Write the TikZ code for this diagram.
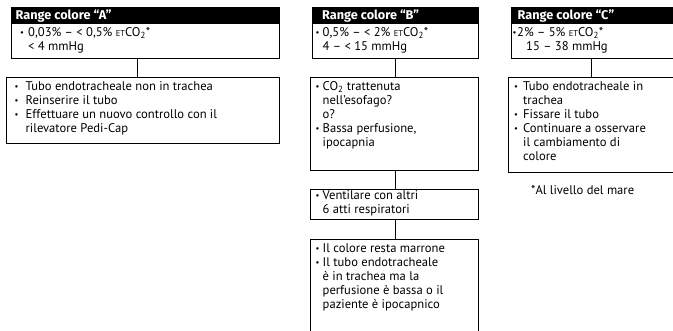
\documentclass[tikz,border=0pt]{standalone}
\usepackage{fontspec}
\setmainfont{PT Sans}
\newfontfamily\ttlfamily{Fira Sans}
\newcommand\bodyfont{\fontsize{12.6}{14}\selectfont}
\newcommand\ttlfont{\ttlfamily\fontsize{12.7}{13}\selectfont\bfseries}
\newcommand\smbul{{\fontsize{8.5}{8.5}\selectfont\raisebox{0.8pt}{•}}}
\newcommand\bu[1]{\makebox[#1][l]{\smbul}}
\newcommand\ind[1]{\hspace*{#1}}
\newcommand\etco{{\fontsize{8.5}{8.5}\selectfont ET}CO\textsubscript{2}*}
\begin{document}
\begin{tikzpicture}[x=1pt,y=-1pt,
  hdr/.style={fill=black,draw=black,line width=0.6pt,anchor=north west,inner sep=0,outer sep=0},
  bx/.style={draw=black,line width=0.8pt,anchor=north west,inner sep=0,outer sep=0},
  ttl/.style={anchor=base west,inner sep=0,text=white,font=\ttlfont},
  txt/.style={anchor=base west,inner sep=0,font=\bodyfont},
  conn/.style={draw=black,line width=0.8pt}]
\useasboundingbox (0,0) rectangle (673,331);
\clip (0,0) rectangle (673,331);
% column A
\node[hdr,minimum width=268pt,minimum height=16pt] (ha) at (11,7) {};
\node[bx,minimum width=268pt,minimum height=35pt] (ba) at (11,23) {};
\node[bx,minimum width=273pt,minimum height=66pt] (la) at (6,77) {};
\node[ttl] (tha) at (15.5,19.8) {Range colore “A”};
\node[txt] (tba) at (20,36.5) {\parbox[t]{250pt}{\bu{8pt}0,03\% – < 0,5\% \etco\\\ind{8pt}< 4 mmHg}};
\node[txt] (tla) at (14.5,90.5) {\parbox[t]{260pt}{\bu{11pt}Tubo endotracheale non in trachea\\\bu{11pt}Reinserire il tubo\\\bu{11pt}Effettuare un nuovo controllo con il\\\ind{11pt}rilevatore Pedi-Cap}};
\coordinate (xa) at (137,0);
\draw[conn] (ba.south -| xa) -- (la.north -| xa);
% column B
\node[hdr,minimum width=166pt,minimum height=16pt] (hb) at (312,7) {};
\node[bx,minimum width=166pt,minimum height=35pt] (bb) at (312,23) {};
\node[bx,minimum width=168pt,minimum height=93pt] (lb) at (310,77) {};
\node[bx,minimum width=168pt,minimum height=30pt] (vb) at (310,189) {};
\node[bx,minimum width=168pt,minimum height=110pt] (eb) at (310,239) {};
\node[ttl] (thb) at (322,19.8) {Range colore “B”};
\node[txt] (tbb) at (315.5,36.5) {\parbox[t]{160pt}{\bu{7pt}0,5\% – < 2\% \etco\\\ind{7pt}4 – < 15 mmHg}};
\node[txt] (tlb) at (315.5,90.5) {\parbox[t]{160pt}{\bu{7pt}CO\textsubscript{2} trattenuta\\\ind{7pt}nell’esofago?\\\ind{7pt}o?\\\bu{7pt}Bassa perfusione,\\\ind{7pt}ipocapnia}};
\node[txt] (tvb) at (315.5,199.5) {\parbox[t]{160pt}{\bu{7pt}Ventilare con altri\\\ind{7pt}6 atti respiratori}};
\node[txt] (teb) at (315.5,252.5) {\parbox[t]{160pt}{\bu{7pt}Il colore resta marrone\\\bu{7pt}Il tubo endotracheale\\\ind{7pt}è in trachea ma la\\\ind{7pt}perfusione è bassa o il\\\ind{7pt}paziente è ipocapnico}};
\coordinate (xb) at (395,0);
\draw[conn] (bb.south -| xb) -- (lb.north -| xb);
\draw[conn] (lb.south -| xb) -- (vb.north -| xb);
\draw[conn] (vb.south -| xb) -- (eb.north -| xb);
% column C
\node[hdr,minimum width=170pt,minimum height=16pt] (hc) at (511,7) {};
\node[bx,minimum width=170pt,minimum height=35pt] (bc) at (511,23) {};
\node[bx,minimum width=170pt,minimum height=95pt] (lc) at (508,77) {};
\node[ttl] (thc) at (517.5,19.8) {Range colore “C”};
\node[txt] (tbc) at (512.5,36.5) {\parbox[t]{160pt}{\bu{4.5pt}2\% – 5\% \etco\\\ind{13.5pt}15 – 38 mmHg}};
\node[txt] (tlc) at (514,90.5) {\parbox[t]{160pt}{\bu{9pt}Tubo endotracheale in\\\ind{9pt}trachea\\\bu{9pt}Fissare il tubo\\\bu{9pt}Continuare a osservare\\\ind{9pt}il cambiamento di\\\ind{9pt}colore}};
\node[txt] (fn) at (531,195) {*Al livello del mare};
\coordinate (xc) at (591,0);
\draw[conn] (bc.south -| xc) -- (lc.north -| xc);
\end{tikzpicture}
\end{document}
